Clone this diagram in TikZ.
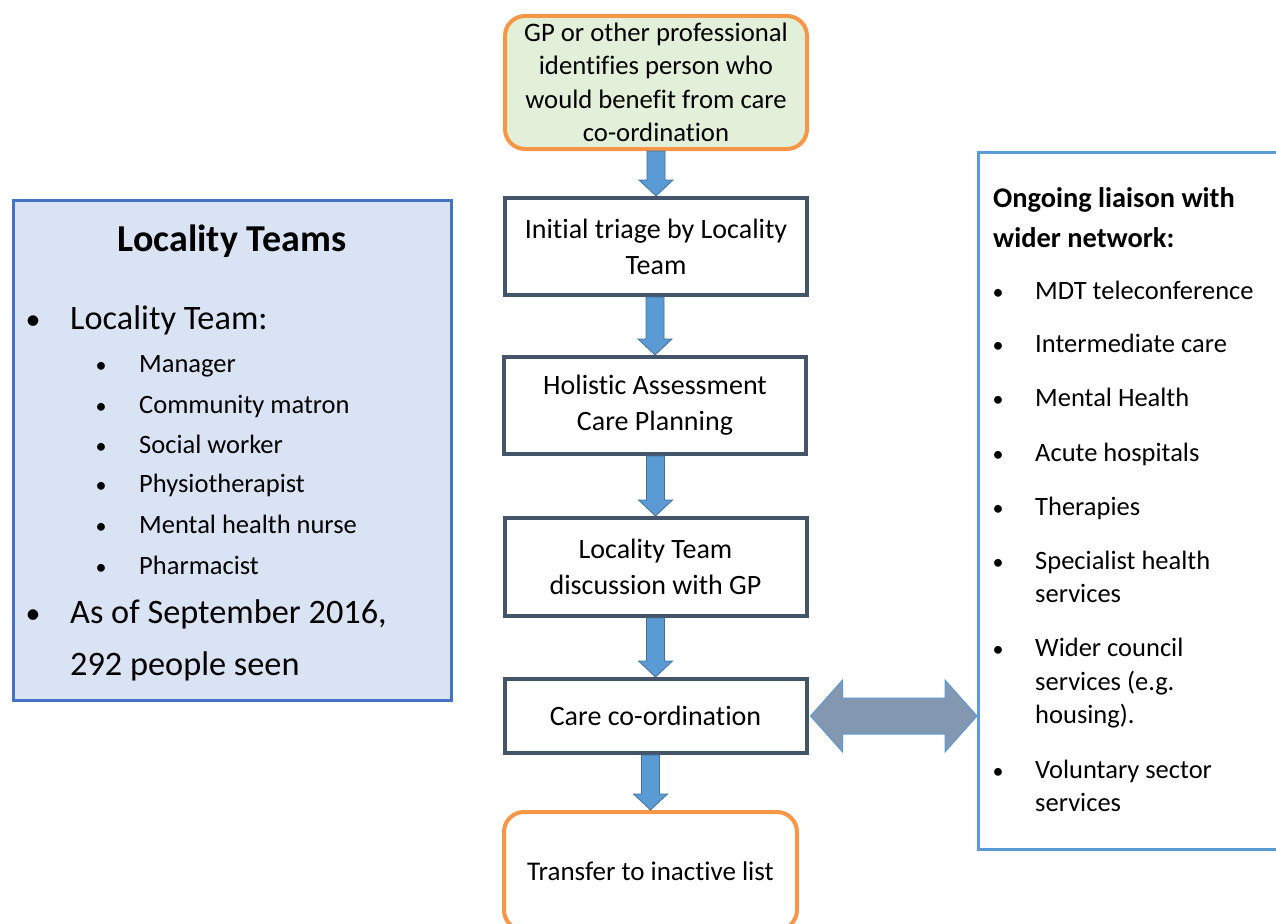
\documentclass[tikz,border=0pt]{standalone}
\usepackage{fontspec}
\setmainfont{Carlito}[Ligatures={NoCommon}]
\usetikzlibrary{calc}
\definecolor{topfill}{RGB}{226,239,217}
\definecolor{orangeb}{RGB}{247,150,70}
\definecolor{darkb}{RGB}{68,84,106}
\definecolor{arrfill}{RGB}{91,155,213}
\definecolor{arredge}{RGB}{65,113,156}
\definecolor{dblfill}{RGB}{132,151,176}
\definecolor{lightb}{RGB}{91,155,213}
\definecolor{leftfill}{RGB}{218,227,243}
\definecolor{leftb}{RGB}{68,114,196}
\tikzset{
  flowbox/.style={draw=darkb, line width=4pt, fill=white, minimum width=302pt, align=center, inner sep=0pt, font=\fontsize{28}{36}\selectfont},
  roundbox/.style={draw=orangeb, line width=4pt, rounded corners=20pt, minimum width=302pt, align=center, inner sep=0pt, font=\fontsize{26.7}{33.5}\selectfont},
  blockarr/.style={fill=arrfill, draw=arredge, line width=0.8pt},
  itemtxt/.style={anchor=base west, inner sep=0pt, font=\fontsize{26.5}{33}\selectfont},
  bul/.style={anchor=base, inner sep=0pt, font=\fontsize{22}{24}\selectfont},
  subtxt/.style={anchor=base west, inner sep=0pt, font=\fontsize{26.5}{30}\selectfont},
  bigtxt/.style={anchor=base west, inner sep=0pt, font=\fontsize{34.3}{40}\selectfont},
  rtitle/.style={anchor=base west, inner sep=0pt, font=\fontsize{28.4}{34}\selectfont\bfseries},
}
\newcommand{\blockarrow}[2]{%
  \path[blockarr] ($(#1.south -| #2.north)+(-9,0)$) -- ($(#2.north)+(-9,-16)$) -- ($(#2.north)+(-17,-16)$) -- (#2.north) -- ($(#2.north)+(17,-16)$) -- ($(#2.north)+(9,-16)$) -- ($(#1.south -| #2.north)+(9,0)$) -- cycle;}
\begin{document}
\begin{tikzpicture}[x=1pt,y=-1pt]
\useasboundingbox (0,0) rectangle (1276,923);
% left box
\node[draw=leftb, fill=leftfill, line width=3pt, minimum width=438pt, minimum height=500pt, inner sep=0pt] (left) at (232,450) {};
\node[anchor=base, inner sep=0pt, font=\fontsize{38}{44}\selectfont\bfseries] (lt) at (232,251) {Locality Teams};
\node[bul, font=\fontsize{30}{30}\selectfont] (lb1) at (33,329) {\textbullet};
\node[bigtxt] (l1) at (70,329) {Locality Team:};
\node[bul] (sb1) at (101,372) {\textbullet};
\node[subtxt] (s1) at (139,372) {Manager};
\node[bul] (sb2) at (101,413) {\textbullet};
\node[subtxt] (s2) at (139,413) {Community matron};
\node[bul] (sb3) at (101,453) {\textbullet};
\node[subtxt] (s3) at (139,453) {Social worker};
\node[bul] (sb4) at (101,492) {\textbullet};
\node[subtxt] (s4) at (139,492) {Physiotherapist};
\node[bul] (sb5) at (101,533) {\textbullet};
\node[subtxt] (s5) at (139,533) {Mental health nurse};
\node[bul] (sb6) at (101,574) {\textbullet};
\node[subtxt] (s6) at (139,574) {Pharmacist};
\node[bul, font=\fontsize{30}{30}\selectfont] (lb2) at (33,623) {\textbullet};
\node[bigtxt] (l2) at (70,623) {As of September 2016,};
\node[bigtxt] (l3) at (70,675) {292 people seen};
% right box
\node[draw=lightb, line width=3pt, minimum width=320pt, minimum height=697pt, inner sep=0pt, anchor=north west] (right) at (977,151) {};
\node[rtitle] (rt1) at (993,207) {Ongoing liaison with};
\node[rtitle] (rt2) at (993,247) {wider network:};
\node[bul] (rb1) at (998,299) {\textbullet};
\node[itemtxt] (ri1) at (1035,299) {MDT teleconference};
\node[bul] (rb2) at (998,352) {\textbullet};
\node[itemtxt] (ri2) at (1035,352) {Intermediate care};
\node[bul] (rb3) at (998,406) {\textbullet};
\node[itemtxt] (ri3) at (1035,406) {Mental Health};
\node[bul] (rb4) at (998,461) {\textbullet};
\node[itemtxt] (ri4) at (1035,461) {Acute hospitals};
\node[bul] (rb5) at (998,515) {\textbullet};
\node[itemtxt] (ri5) at (1035,515) {Therapies};
\node[bul] (rb6) at (998,569) {\textbullet};
\node[itemtxt] (ri6) at (1035,569) {Specialist health};
\node[itemtxt] (ri6b) at (1035,602) {services};
\node[bul] (rb7) at (998,656) {\textbullet};
\node[itemtxt] (ri7) at (1035,656) {Wider council};
\node[itemtxt] (ri7b) at (1035,690) {services (e.g.};
\node[itemtxt] (ri7c) at (1035,723) {housing).};
\node[bul] (rb8) at (998,778) {\textbullet};
\node[itemtxt] (ri8) at (1035,778) {Voluntary sector};
\node[itemtxt] (ri8b) at (1035,811) {services};
% flow boxes
\node[roundbox, fill=topfill, minimum height=133pt] (gp) at (656,82.5) {GP or other professional\\identifies person who\\would benefit from care\\co-ordination};
\node[flowbox, minimum height=97pt] (triage) at (656,246.5) {Initial triage by Locality\\Team};
\node[flowbox, minimum height=97pt] (holistic) at (655,405.5) {Holistic Assessment\\Care Planning};
\node[flowbox, minimum height=98pt] (disc) at (655.5,567) {Locality Team\\discussion with GP};
\node[flowbox, minimum height=74pt] (care) at (655.5,716) {Care co-ordination};
\node[roundbox, fill=white, minimum width=293pt, minimum height=118pt, font=\fontsize{27}{30}\selectfont] (transfer) at (650.5,871) {Transfer to inactive list};
% arrows
\blockarrow{gp}{triage}
\blockarrow{triage}{holistic}
\blockarrow{holistic}{disc}
\blockarrow{disc}{care}
\blockarrow{care}{transfer}
% double arrow
\coordinate (L) at ($(care.east)+(2,0)$);
\coordinate (R) at (care.east -| right.west);
\path[fill=dblfill, draw=lightb, line width=1pt] (L) -- ($(L)+(32,-36)$) -- ($(L)+(32,-18)$) -- ($(R)+(-32,-18)$) -- ($(R)+(-32,-36)$) -- (R) -- ($(R)+(-32,36)$) -- ($(R)+(-32,18)$) -- ($(L)+(32,18)$) -- ($(L)+(32,36)$) -- cycle;
\end{tikzpicture}
\end{document}
